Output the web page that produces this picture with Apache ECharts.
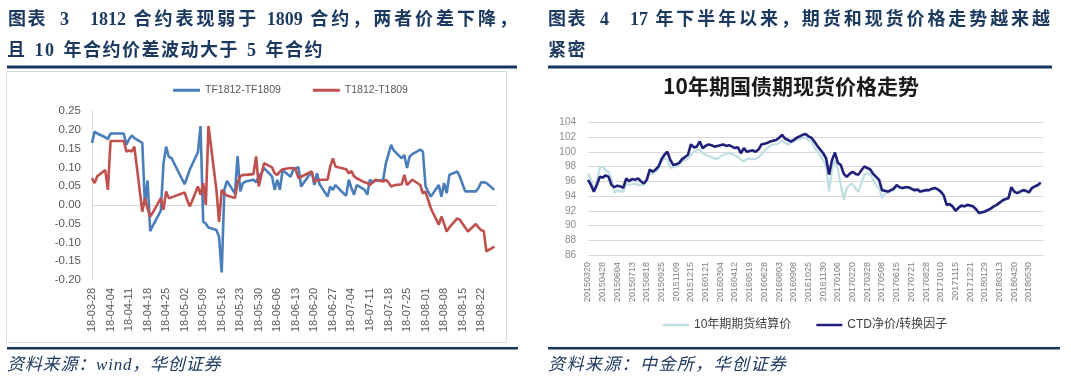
<!DOCTYPE html>
<html><head><meta charset="utf-8">
<script src="https://cdn.jsdelivr.net/npm/echarts@6/dist/echarts.min.js"></script>
<style>
html,body{margin:0;padding:0;background:#fff;}
#wrap{position:relative;width:1071px;height:381px;overflow:hidden;background:#fff;}
#chart{position:absolute;left:0;top:0;width:1071px;height:381px;}
.t{position:absolute;font-family:"Liberation Serif","Noto Sans CJK SC",serif;font-weight:bold;font-size:18px;line-height:20px;color:#1c3a60;white-space:nowrap;}
.j{text-align:justify;text-align-last:justify;white-space:normal;}
.src{position:absolute;font-family:"Liberation Serif","Noto Sans CJK SC",serif;font-style:italic;font-size:17px;line-height:20px;color:#1c3a60;white-space:nowrap;}
</style></head>
<body>
<div id="wrap">
<div id="chart"></div>
<div class="t" style="left:8px;top:8.5px;letter-spacing:1.5px">图表</div>
<div class="t" style="left:60px;top:8.5px">3</div>
<div class="t j" style="left:90px;top:8.5px;width:427px">1812 合约表现弱于 1809 合约，两者价差下降，</div>
<div class="t" style="left:7px;top:39.5px;letter-spacing:1.5px;word-spacing:2px">且 10 年合约价差波动大于 5 年合约</div>
<div class="t" style="left:548px;top:8.5px;letter-spacing:1.5px">图表</div>
<div class="t" style="left:600px;top:8.5px">4</div>
<div class="t j" style="left:630px;top:8.5px;width:420px">17 年下半年以来，期货和现货价格走势越来越</div>
<div class="t" style="left:548px;top:39.5px;letter-spacing:1.5px">紧密</div>
<div class="src" style="left:7px;top:355px;letter-spacing:0.8px">资料来源：wind，华创证券</div>
<div class="src" style="left:548px;top:355px;letter-spacing:1.4px">资料来源：中金所，华创证券</div>
</div>
<script>
// ---------- Left chart data (spreads) ----------
const leftTicks = ['18-03-28','18-04-04','18-04-11','18-04-18','18-04-25','18-05-02','18-05-09','18-05-16','18-05-23','18-05-30','18-06-06','18-06-13','18-06-20','18-06-27','18-07-04','18-07-11','18-07-18','18-07-25','18-08-01','18-08-08','18-08-15','18-08-22'];
const tradeDates = ['03-28','03-29','03-30','04-02','04-03','04-04','04-09','04-10','04-11','04-12','04-13','04-16','04-17','04-18','04-19','04-20','04-23','04-24','04-25','04-26','04-27','05-02','05-03','05-04','05-07','05-08','05-09','05-10','05-11','05-14','05-15','05-16','05-17','05-18','05-21','05-22','05-23','05-24','05-25','05-28','05-29','05-30','05-31','06-01','06-04','06-05','06-06','06-07','06-08','06-11','06-12','06-13','06-14','06-15','06-19','06-20','06-21','06-22','06-25','06-26','06-27','06-28','06-29','07-02','07-03','07-04','07-05','07-06','07-09','07-10','07-11','07-12','07-13','07-16','07-17','07-18','07-19','07-20','07-23','07-24','07-25','07-26','07-27','07-30','07-31','08-01','08-02','08-03','08-06','08-07','08-08','08-09','08-10','08-13','08-14','08-15','08-16','08-17','08-20','08-21','08-22','08-23','08-24','08-27'];
const tfSpread = [0.165,0.195,0.19,
 0.18,0.175,0.19, 0.19,0.16,0.175,0.185,0.178, 0.165,0.0,0.065,-0.07,-0.055, -0.015,0.11,0.155,0.128,0.125,
 0.055,0.075,0.095, 0.14,0.21,-0.045,-0.05,-0.06, -0.067,-0.085,-0.18,0.04,0.064, 0.03,0.13,0.036,0.058,0.062, 0.067,0.06,0.076,0.085,
 0.098, 0.076,0.04,0.067,0.04,0.093, 0.075,0.093,0.098,0.1,0.049, 0.089,0.053,0.084,0.055, 0.022,0.049,0.04,0.053,0.045,
 0.024,0.067,0.045,0.027,0.053, 0.04,0.027,0.067,0.06,0.064, 0.067,0.11,0.135,0.16,0.145, 0.124,0.133,0.098,0.129,0.135, 0.147,0.142,
 0.05,0.035,0.022, 0.053,0.022,0.058,0.031,0.08, 0.089,0.075,0.055,0.036,0.036, 0.036,0.045,0.06,0.06,0.058, 0.04];
const tSpread = [0.071,0.058,0.076,
 0.093,0.04,0.17, 0.17,0.142,0.145,0.142,0.155, -0.018,0.018,-0.01,-0.031,-0.02, 0.018,-0.013,0.036,0.018,0.02,
 0.033,0.012,-0.004, 0.049,0.027,0.058,0.0,0.21, 0.04,-0.045,0.04,0.03,0.025, 0.018,0.06,0.076,0.08,0.08, 0.082,0.129,0.049,0.08,
 0.111, 0.1,0.084,0.08,0.089,0.095, 0.098,0.098,0.093,0.071,0.075, 0.089,0.062,0.065,0.067, 0.067,0.102,0.124,0.102,0.1,
 0.095,0.084,0.09,0.076,0.071, 0.06,0.058,0.053,0.06,0.067, 0.062,0.067,0.06,0.049,0.052, 0.055,0.08,0.053,0.06,0.067, 0.053,0.031,
 0.035,0.013,-0.009, -0.053,-0.031,-0.05,-0.071,-0.06, -0.036,-0.04,-0.05,-0.06,-0.071, -0.051,-0.06,-0.067,-0.07,-0.124, -0.111];

// ---------- Right chart data (10Y futures vs CTD) ----------
const rightTicks = ['20150320','20150428','20150604','20150713','20150818','20150925','20151109','20151215','20160121','20160304','20160412','20160519','20160628','20160803','20160908','20161025','20161130','20170106','20170220','20170328','20170508','20170615','20170721','20170828','20171010','20171115','20171221','20180129','20180313','20180420','20180530'];
const futPrice = [97.1,96.2,94.8,96.0,97.8,98.0,97.5,97.3,96.2,94.4,
 94.8,94.6,94.6,95.7,95.5,95.6,95.7,95.5,95.5,95.6,
 96.2,97.1,97.0,97.3,97.8,98.7,99.1,99.0,97.8,97.9,
 98.0,98.3,98.7,98.9,99.1,99.6,100.0,100.2,100.3,99.8,
 99.6,99.4,99.3,99.1,99.0,99.3,99.6,99.7,99.8,99.7,
 99.5,99.3,98.9,98.7,99.0,99.1,99.0,99.0,99.3,99.6,
 100.1,100.5,100.8,101.0,101.0,101.2,101.6,101.2,101.0,101.2,
 101.4,101.6,101.7,101.9,101.9,101.6,101.4,100.6,100.0,99.5,
 98.9,97.9,94.6,97.6,98.9,97.6,95.5,93.5,95.1,95.5,
 95.7,95.0,94.6,95.8,96.9,97.1,96.9,96.2,95.5,95.1,
 93.7,94.4,94.4,94.6,94.8,95.3,95.1,95.0,95.1,95.0,
 94.9,94.6,94.8,94.5,94.6,94.7,94.7,94.9,95.0,94.8,
 94.5,94.0,92.7,92.8,92.5,91.9,92.3,92.6,92.5,92.7,
 92.6,92.5,92.1,91.6,91.7,91.8,92.0,92.2,92.5,92.7,
 93.0,93.3,93.5,93.6,95.0,94.5,94.3,94.5,94.7,94.6,
 94.4,95.0,95.2,95.4,95.7];
const ctdPrice = [96.2,95.5,94.6,95.5,96.6,96.5,96.8,96.6,95.5,95.2,
 95.4,95.3,95.1,96.4,96.0,96.3,96.2,96.4,96.0,95.7,
 96.2,97.6,97.3,97.6,98.0,99.0,99.6,100.0,98.9,98.2,
 98.3,98.5,99.0,99.3,99.6,101.0,100.6,100.7,101.4,100.5,
 100.8,101.0,100.9,100.7,100.8,100.9,101.0,100.8,100.9,100.7,
 100.5,100.6,99.8,100.5,100.0,100.1,100.2,100.0,100.3,101.0,
 101.1,101.2,101.4,101.5,101.6,101.9,102.3,101.8,101.6,101.4,
 101.6,101.9,102.1,102.3,102.4,102.1,101.9,101.4,100.8,100.3,
 99.8,99.1,96.9,98.9,99.9,98.5,98.2,97.0,96.6,97.0,
 97.3,97.0,96.9,97.5,98.0,97.8,97.6,97.0,96.6,96.2,
 94.8,94.7,94.6,94.8,95.0,95.5,95.2,95.1,95.2,95.2,
 95.0,94.8,94.9,94.6,94.7,94.8,94.8,95.0,95.1,94.9,
 94.6,94.1,92.8,92.9,92.6,92.0,92.4,92.7,92.6,92.8,
 92.7,92.6,92.2,91.7,91.8,91.9,92.1,92.3,92.6,92.8,
 93.1,93.4,93.6,93.7,95.2,94.6,94.4,94.6,94.8,94.7,
 94.5,95.1,95.3,95.5,95.8];

// ---------- build ----------
const base = Date.UTC(2018, 2, 28);
function dayOf(md) { const p = md.split('-').map(Number); return Math.round((Date.UTC(2018, p[0]-1, p[1]) - base) / 86400000); }
const tfData = tradeDates.map((d, i) => [dayOf(d), tfSpread[i]]);
const tData = tradeDates.map((d, i) => [dayOf(d), tSpread[i]]);
const futData = futPrice.map((v, i) => [i, v]);
const ctdData = ctdPrice.map((v, i) => [i, v]);

const SUB = 5; // data points between right-chart tick labels
const chart = echarts.init(document.getElementById('chart'), null, {renderer: 'canvas'});
const sans = '"Liberation Sans", Arial, "Noto Sans CJK SC", sans-serif';
const option = {
  animation: false,
  textStyle: {fontFamily: sans},
  grid: [
    {left: 92, top: 111, width: 405, height: 169},
    {left: 588, top: 122.3, width: 455.7, height: 132.7}
  ],
  legend: [
    {left: 168, top: 80, itemWidth: 27, itemHeight: 3, itemGap: 32, icon: 'rect',
     textStyle: {fontSize: 10.5, color: '#595959', fontFamily: sans},
     data: ['TF1812-TF1809', 'T1812-T1809']},
    {left: 658, top: 314, itemWidth: 26, itemHeight: 2.5, itemGap: 25, icon: 'rect',
     textStyle: {fontSize: 12, color: '#404040', fontFamily: sans},
     data: ['10年期期货结算价', 'CTD净价/转换因子']}
  ],
  xAxis: [
    {gridIndex: 0, type: 'value', min: 0, max: 153, interval: 7,
     axisLine: {show: false}, axisTick: {show: false}, splitLine: {show: false},
     axisLabel: {rotate: 90, margin: 8, fontSize: 11, color: '#595959',
       formatter: v => { const k = v / 7; return (Number.isInteger(k) && leftTicks[k]) ? leftTicks[k] : ''; }}},
    {gridIndex: 1, type: 'value', min: 0, max: 155, interval: SUB,
     axisLine: {show: false}, axisTick: {show: false}, splitLine: {show: false},
     axisLabel: {rotate: 90, margin: 7, fontSize: 9, color: '#7f7f7f',
       formatter: v => { const k = v / SUB; return (Number.isInteger(k) && rightTicks[k]) ? rightTicks[k] : ''; }}}
  ],
  yAxis: [
    {gridIndex: 0, type: 'value', min: -0.2, max: 0.25, interval: 0.05,
     axisLine: {show: true, lineStyle: {color: '#d9d9d9', width: 1}}, axisTick: {show: false},
     splitLine: {show: false},
     axisLabel: {margin: 11, fontSize: 11.5, color: '#595959', formatter: v => v.toFixed(2)}},
    {gridIndex: 1, type: 'value', min: 86, max: 104, interval: 2,
     axisLine: {show: false}, axisTick: {show: false},
     splitLine: {show: true, lineStyle: {color: '#d9d9d9', width: 1}},
     axisLabel: {margin: 12, fontSize: 10, color: '#8c8c8c'}}
  ],
  series: [
    {name: 'TF1812-TF1809', type: 'line', xAxisIndex: 0, yAxisIndex: 0, data: tfData,
     symbol: 'none', showSymbol: false, z: 3, color: '#4a7ebb',
     lineStyle: {width: 2.6, color: '#4a7ebb'}, itemStyle: {color: '#4a7ebb'},
     markLine: {silent: true, z: 1, symbol: ['none', 'none'], label: {show: false},
       lineStyle: {color: '#d9d9d9', width: 1, type: 'solid'}, data: [{yAxis: 0}]}},
    {name: 'T1812-T1809', type: 'line', xAxisIndex: 0, yAxisIndex: 0, data: tData,
     symbol: 'none', showSymbol: false, z: 4, color: '#c0504d',
     lineStyle: {width: 2.6, color: '#c0504d'}, itemStyle: {color: '#c0504d'}},
    {name: '10年期期货结算价', type: 'line', xAxisIndex: 1, yAxisIndex: 1, data: futData,
     symbol: 'none', showSymbol: false, z: 3, color: '#bfdfe3',
     lineStyle: {width: 2.2, color: '#bfdfe3'}, itemStyle: {color: '#bfdfe3'}},
    {name: 'CTD净价/转换因子', type: 'line', xAxisIndex: 1, yAxisIndex: 1, data: ctdData,
     symbol: 'none', showSymbol: false, z: 4, color: '#20207a',
     lineStyle: {width: 2.6, color: '#20207a'}, itemStyle: {color: '#20207a'}}
  ],
  graphic: [
    {type: 'rect', silent: true, shape: {x: 6.5, y: 71.5, width: 500, height: 271},
     style: {fill: 'none', stroke: '#d9d9d9', lineWidth: 1}},
    {type: 'rect', silent: true, shape: {x: 7, y: 65.5, width: 510, height: 3}, style: {fill: '#17375e'}},
    {type: 'rect', silent: true, shape: {x: 548, y: 65.5, width: 504, height: 3}, style: {fill: '#17375e'}},
    {type: 'rect', silent: true, shape: {x: 7, y: 347, width: 511, height: 2.6}, style: {fill: '#17375e'}},
    {type: 'rect', silent: true, shape: {x: 548, y: 347, width: 512, height: 2.6}, style: {fill: '#17375e'}},
    {type: 'text', silent: true, x: 791, y: 86,
     style: {text: '10年期国债期现货价格走势', fill: '#1a1a1a', font: 'bold 21px "Noto Sans CJK SC", sans-serif',
       textAlign: 'center', textVerticalAlign: 'middle'}}
  ]
};
chart.setOption(option);
</script>
</body></html>
